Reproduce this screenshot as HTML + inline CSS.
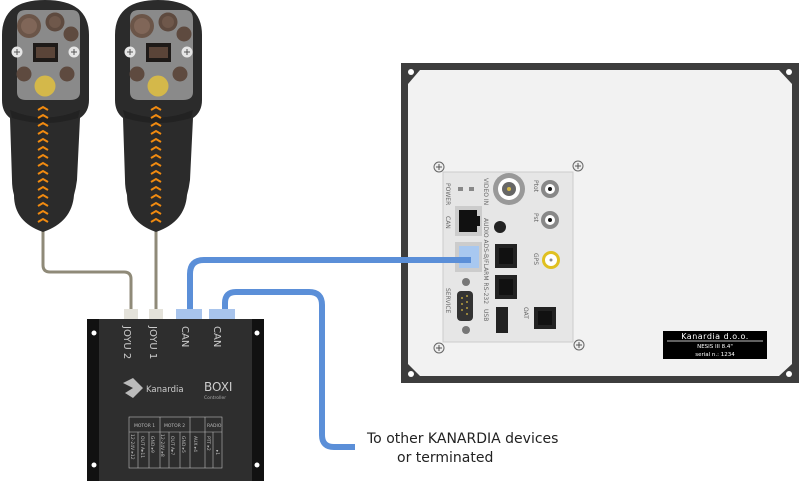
<!DOCTYPE html>
<html><head><meta charset="utf-8"><style>
html,body{margin:0;padding:0;background:#fff;}
svg{display:block;font-family:"DejaVu Sans","Liberation Sans",sans-serif;}
</style></head><body>
<svg width="800" height="481" viewBox="0 0 800 481" xmlns="http://www.w3.org/2000/svg">
<defs>
<g id="joy">
  <path d="M2,35 Q2,0 45,0 Q89,0 89,35 L89,100 Q89,112 80,118 L77,180 Q76,188 74,195 Q72,222 43,232 Q14,222 14,195 Q12,188 12,180 L10,118 Q2,112 2,100 Z" fill="#2b2b2b"/>
  <path d="M10,110 Q45,125 80,110 L78,118 Q45,128 12,118 Z" fill="#222"/>
  <path d="M17,18 Q17,10 26,10 L72,10 Q80,10 80,20 L80,92 Q80,100 70,100 L26,100 Q17,100 17,92 Z" fill="#8a8a8a"/>
  <circle cx="29" cy="26" r="12" fill="#6b5548"/><circle cx="29" cy="26" r="8" fill="#806658"/>
  <circle cx="55" cy="22" r="9.5" fill="#5e4a3f"/><circle cx="55" cy="22" r="6" fill="#6f584b"/>
  <circle cx="71" cy="34" r="7.5" fill="#5e4a3f"/>
  <rect x="33" y="43" width="25" height="19" fill="#1e1a18"/><rect x="36" y="47" width="19" height="11" fill="#5a4438"/>
  <circle cx="17" cy="52" r="5.5" fill="#e6e6e6"/><path d="M14,52h6M17,49v6" stroke="#555" stroke-width="1"/>
  <circle cx="74" cy="52" r="5.5" fill="#e6e6e6"/><path d="M71,52h6M74,49v6" stroke="#555" stroke-width="1"/>
  <circle cx="24" cy="74" r="7.5" fill="#5e4a3f"/><circle cx="67" cy="74" r="7.5" fill="#5e4a3f"/>
  <circle cx="45" cy="86" r="10.5" fill="#d4b84a"/>
  <g stroke="#f08a10" stroke-width="2" fill="none">
   <path d="M38,110l5,-3l5,3M38,118l5,-3l5,3M38,126l5,-3l5,3M38,134l5,-3l5,3M38,142l5,-3l5,3M38,150l5,-3l5,3M38,158l5,-3l5,3M38,166l5,-3l5,3M38,174l5,-3l5,3M38,182l5,-3l5,3M38,190l5,-3l5,3M38,198l5,-3l5,3M38,206l5,-3l5,3M38,214l5,-3l5,3M38,222l5,-3l5,3"/>
  </g>
</g>
<g id="scr"><circle r="5" fill="#eee" stroke="#666" stroke-width="1"/><path d="M-3,0h6M0,-3v6" stroke="#555" stroke-width="1"/></g>
</defs>

<path d="M43,230 V265 Q43,272 50,272 H124 Q131,272 131,279 V310" fill="none" stroke="#8f8a78" stroke-width="3"/>
<path d="M156,230 V310" fill="none" stroke="#8f8a78" stroke-width="3"/>

<use href="#joy" x="0" y="0"/>
<use href="#joy" x="113" y="0"/>

<rect x="401" y="63" width="398" height="320" fill="#3d3d3d"/>
<path d="M420,70 L779,70 L792,84 L792,364 L779,376 L420,376 L408,364 L408,84 Z" fill="#f2f2f2"/>
<g fill="#fff"><circle cx="411" cy="72" r="3"/><circle cx="789" cy="72" r="3"/><circle cx="411" cy="374" r="3"/><circle cx="789" cy="374" r="3"/></g>
<rect x="443" y="172" width="130" height="170" fill="#e6e6e6" stroke="#ccc"/>
<use href="#scr" x="439" y="167"/><use href="#scr" x="578" y="166"/><use href="#scr" x="439" y="348"/><use href="#scr" x="579" y="345"/>
<rect x="458" y="187" width="5" height="4" fill="#888"/><rect x="469" y="187" width="5" height="4" fill="#888"/>
<rect x="455" y="206" width="27" height="30" fill="#ccc"/><rect x="459" y="210" width="18" height="22" fill="#111"/><rect x="475" y="216" width="5" height="10" fill="#111"/>
<rect x="455" y="242" width="27" height="30" fill="#ccc"/><rect x="459" y="246" width="20" height="22" fill="#a8c8f0"/>
<circle cx="466" cy="282" r="4" fill="#777"/><circle cx="466" cy="330" r="4" fill="#777"/>
<rect x="457" y="291" width="16" height="30" rx="4" fill="#333"/>
<g fill="#b8a040"><circle cx="462" cy="298" r="1"/><circle cx="462" cy="304" r="1"/><circle cx="462" cy="310" r="1"/><circle cx="467" cy="296" r="1"/><circle cx="467" cy="302" r="1"/><circle cx="467" cy="308" r="1"/><circle cx="467" cy="314" r="1"/></g>
<circle cx="509" cy="189" r="16" fill="#999"/><circle cx="509" cy="189" r="11" fill="#fff"/><circle cx="509" cy="189" r="7" fill="#666"/><circle cx="509" cy="189" r="2" fill="#d4b84a"/>
<circle cx="500" cy="227" r="6" fill="#222"/>
<rect x="495" y="244" width="22" height="24" fill="#222"/><rect x="499" y="248" width="14" height="16" fill="#111"/>
<rect x="495" y="275" width="22" height="24" fill="#222"/><rect x="499" y="279" width="14" height="16" fill="#111"/>
<rect x="496" y="307" width="12" height="26" fill="#222"/>
<circle cx="550" cy="189" r="9" fill="#888"/><circle cx="550" cy="189" r="5" fill="#fff"/><circle cx="550" cy="189" r="2" fill="#111"/>
<circle cx="550" cy="220" r="9" fill="#888"/><circle cx="550" cy="220" r="5" fill="#fff"/><circle cx="550" cy="220" r="2" fill="#111"/>
<circle cx="551" cy="260" r="9" fill="#e0c020"/><circle cx="551" cy="260" r="6" fill="#fff"/><circle cx="551" cy="260" r="1.5" fill="#888"/>
<rect x="534" y="307" width="22" height="22" fill="#222"/><rect x="538" y="311" width="14" height="14" fill="#111"/>
<g font-size="6" fill="#666">
<text transform="translate(446,183) rotate(90)">POWER</text>
<text transform="translate(446,216) rotate(90)">CAN</text>
<text transform="translate(446,288) rotate(90)">SERVICE</text>
<text transform="translate(484,178) rotate(90)">VIDEO IN</text>
<text transform="translate(484,218) rotate(90)">AUDIO ADS-B/FLARM RS-232</text>
<text transform="translate(484,309) rotate(90)">USB</text>
<text transform="translate(534,180) rotate(90)">Ptot</text>
<text transform="translate(534,213) rotate(90)">Pst</text>
<text transform="translate(534,253) rotate(90)">GPS</text>
<text transform="translate(524,307) rotate(90)">OAT</text>
</g>
<rect x="663" y="331" width="104" height="28" fill="#000"/>
<line x1="667" y1="341" x2="763" y2="341" stroke="#fff" stroke-width="0.7"/>
<text x="715" y="339" font-size="8" fill="#fff" text-anchor="middle" letter-spacing="0.5">Kanardia d.o.o.</text>
<text x="715" y="348" font-size="5.5" fill="#fff" text-anchor="middle">NESIS III 8.4"</text>
<text x="715" y="356" font-size="5.5" fill="#fff" text-anchor="middle">serial n.: 1234</text>

<path d="M190,310 V274 Q190,260 204,260 H471" fill="none" stroke="#5b8fd8" stroke-width="6"/>
<path d="M225,310 V303 Q225,292 236,292 H309 Q322,292 322,305 V435 Q322,447 334,447 H355" fill="none" stroke="#5b8fd8" stroke-width="6"/>

<rect x="124" y="309" width="14" height="10" fill="#e4e2da"/>
<rect x="149" y="309" width="14" height="10" fill="#e4e2da"/>
<rect x="176" y="309" width="26" height="10" fill="#a8c4ec"/>
<rect x="209" y="309" width="26" height="10" fill="#a8c4ec"/>
<rect x="87" y="319" width="177" height="162" fill="#111"/>
<rect x="99" y="319" width="153" height="162" fill="#2e2e2e"/>
<g fill="#fff"><circle cx="94" cy="333" r="2.5"/><circle cx="94" cy="465" r="2.5"/><circle cx="257" cy="333" r="2.5"/><circle cx="257" cy="465" r="2.5"/></g>
<g font-size="10" fill="#ccc">
<text transform="translate(124,326) rotate(90)">JOYU 2</text>
<text transform="translate(150,326) rotate(90)">JOYU 1</text>
<text transform="translate(182,326) rotate(90)">CAN</text>
<text transform="translate(214,326) rotate(90)">CAN</text>
</g>
<path d="M123,383 L133,378 L143,388 L133,398 L125,393 L133,388 Z" fill="#bbb"/>
<text x="146" y="392" font-size="8.5" fill="#ccc">Kanardia</text>
<text x="204" y="391" font-size="12" fill="#ccc">BOXI</text>
<text x="204" y="399" font-size="4.5" fill="#aaa">Controller</text>
<g stroke="#bbb" stroke-width="0.6" fill="none">
<rect x="129" y="417" width="93" height="51"/>
<line x1="129" y1="432" x2="222" y2="432"/>
<line x1="160" y1="417" x2="160" y2="468"/><line x1="190" y1="417" x2="190" y2="468"/>
<line x1="205" y1="417" x2="205" y2="468"/>
<line x1="138" y1="432" x2="138" y2="468"/><line x1="149" y1="432" x2="149" y2="468"/>
<line x1="169" y1="432" x2="169" y2="468"/><line x1="180" y1="432" x2="180" y2="468"/>
<line x1="213" y1="432" x2="213" y2="468"/>
</g>
<g font-size="4.5" fill="#bbb">
<text x="134" y="427">MOTOR 1</text><text x="164" y="427">MOTOR 2</text><text x="207" y="427">RADIO</text>
<text transform="translate(131,434) rotate(90)">12-24V ▸12</text>
<text transform="translate(141,436) rotate(90)">OUT  A▸11</text>
<text transform="translate(151,436) rotate(90)">GND  ▸9</text>
<text transform="translate(161,434) rotate(90)">12-24V ▸8</text>
<text transform="translate(171,436) rotate(90)">OUT  A▸7</text>
<text transform="translate(182,436) rotate(90)">GND  ▸5</text>
<text transform="translate(194,436) rotate(90)">AUX  ▸4</text>
<text transform="translate(207,436) rotate(90)">PTT  ▸2</text>
<text transform="translate(216,450) rotate(90)">▸1</text>
</g>

<text x="367" y="443" font-size="14" fill="#222">To other KANARDIA devices</text>
<text x="397" y="462" font-size="14" fill="#222">or terminated</text>
</svg>
</body></html>
